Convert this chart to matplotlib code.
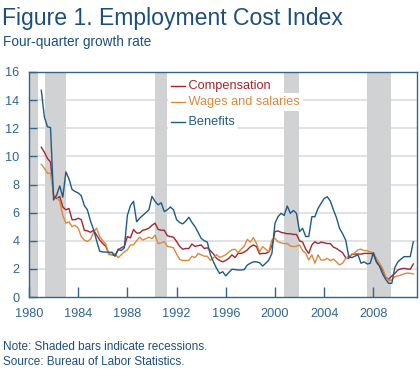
"""Figure 1. Employment Cost Index - four-quarter growth rates, 1981-2011."""
import matplotlib
matplotlib.use('Agg')
import matplotlib.pyplot as plt
import numpy as np

# Colors
TITLE_COLOR = '#1c4f7c'
AXIS_COLOR = '#2f6690'
COMP_COLOR = '#a3262e'
WAGE_COLOR = '#d98a3d'
BEN_COLOR = '#1f5a85'
SHADE_COLOR = '#d1d2d4'
GRID_COLOR = '#dddddd'

plt.rcParams['font.family'] = ['Liberation Sans', 'DejaVu Sans']

# Quarterly observations, 1981Q1 .. 2011Q2
start_year = 1981.0
compensation = [
    10.65, 10.3, 9.85, 9.6,    # 1981
    7.25, 7.0, 7.15, 6.4,      # 1982
    6.2, 6.3, 5.5, 5.5,        # 1983
    5.6, 5.5, 4.75, 4.7,       # 1984
    4.6, 4.75, 4.4, 4.05,      # 1985
    3.8, 3.6, 3.05, 3.0,       # 1986
    2.95, 3.35, 3.5, 3.6,      # 1987
    4.3, 4.2, 4.8, 4.55,       # 1988
    4.55, 4.75, 4.8, 4.9,      # 1989
    5.1, 5.25, 4.8, 4.75,      # 1990
    4.75, 4.35, 4.3, 4.25,     # 1991
    3.95, 3.6, 3.4, 3.45,      # 1992
    3.45, 3.77, 3.6, 3.65,     # 1993
    3.7, 3.45, 3.5, 3.3,       # 1994
    3.06, 2.75, 2.6, 2.5,      # 1995
    2.6, 2.75, 3.0, 2.8,       # 1996
    3.1, 3.1, 3.2, 3.35,       # 1997
    3.58, 3.7, 3.58, 3.06,     # 1998
    3.1, 3.1, 3.2, 3.65,       # 1999
    4.65, 4.7, 4.6, 4.55,      # 2000
    4.5, 4.5, 4.45, 4.45,      # 2001
    4.0, 3.9, 3.4, 3.1,        # 2002
    3.7, 3.93, 3.8, 3.9,       # 2003
    3.86, 3.8, 3.8, 3.55,      # 2004
    3.45, 3.3, 3.15, 2.8,      # 2005
    2.75, 3.05, 3.05, 3.05,    # 2006
    3.05, 3.1, 3.1, 3.1,       # 2007
    3.05, 2.5, 2.2, 1.92,      # 2008
    1.4, 1.26, 1.5, 1.68,      # 2009
    1.92, 2.0, 2.04, 2.0,      # 2010
    1.97, 2.35,                # 2011
]
wages = [
    9.44, 9.15, 8.8, 8.8,
    7.25, 7.1, 6.8, 5.8,
    5.25, 5.35, 5.0, 5.1,
    4.9, 4.3, 4.05, 3.95,
    4.1, 4.6, 4.9, 4.3,
    4.0, 3.75, 3.0, 3.05,
    3.05, 2.8, 3.0, 3.2,
    3.35, 3.7, 3.7, 4.0,
    4.25, 4.05, 4.15, 4.25,
    4.15, 4.4, 3.8, 3.85,
    3.95, 3.6, 3.55, 3.5,
    3.05, 2.68, 2.6, 2.6,
    2.6, 2.9, 2.8, 3.1,
    3.0, 2.9, 2.9, 2.6,
    2.8, 3.0, 2.82, 2.9,
    3.0, 3.2, 3.35, 3.4,
    3.15, 3.4, 3.6, 4.1,
    3.9, 4.22, 3.8, 3.22,
    3.58, 3.4, 3.22, 4.05,
    4.17, 3.93, 3.85, 3.8,
    3.8, 3.63, 3.58, 3.6,
    3.7, 3.3, 3.1, 2.63,
    3.0, 2.4, 3.0, 2.63,
    2.63, 2.75, 2.58, 2.7,
    2.5, 2.28, 2.4, 2.75,
    2.9, 3.0, 3.15, 3.35,
    3.4, 3.3, 3.3, 3.2,
    3.15, 2.75, 2.4, 2.04,
    1.45, 1.16, 1.21, 1.45,
    1.5, 1.56, 1.64, 1.7,
    1.68, 1.64,
]
benefits = [
    14.7, 12.8, 12.1, 12.05,
    6.9, 7.25, 7.9, 7.1,
    8.9, 8.4, 7.65, 7.5,
    7.4, 7.2, 6.5, 6.2,
    5.4, 4.8, 4.0, 3.25,
    3.2, 3.2, 3.18, 3.18,
    2.9, 3.4, 3.3, 3.5,
    5.8, 6.5, 6.8, 5.35,
    5.6, 5.8, 6.0, 6.2,
    7.15, 6.8, 6.55, 6.7,
    6.07, 6.2, 6.4, 6.2,
    5.5, 5.3, 5.2, 5.4,
    5.67, 5.3, 5.0, 4.6,
    4.17, 4.0, 3.9, 3.0,
    2.5, 2.04, 1.68, 1.8,
    1.5, 1.75, 1.97, 1.95,
    1.92, 1.92, 1.95, 2.27,
    2.4, 2.5, 2.5, 2.44,
    2.2, 2.4, 2.63, 3.1,
    5.24, 5.71, 5.95, 5.8,
    6.47, 5.95, 6.15, 5.95,
    4.65, 4.88, 4.3, 4.3,
    5.71, 5.71, 6.3, 6.66,
    7.0, 7.13, 6.83, 6.2,
    5.65, 4.88, 4.5, 4.05,
    2.87, 2.8, 2.9, 3.0,
    2.4, 2.5, 2.35, 2.4,
    3.15, 2.5, 2.2, 1.64,
    1.26, 0.97, 0.97, 2.1,
    2.5, 2.7, 2.87, 2.87,
    2.87, 3.93,
]

# Recession bars (start, end), fractional years
rec_start = [1980.0, 1981.3, 1990.25, 2000.73, 2007.5]
rec_end = [1980.73, 1983.0, 1991.2, 2001.95, 2009.43]

x_ticks = [1980, 1984, 1988, 1992, 1996, 2000, 2004, 2008]
y_ticks = [0, 2, 4, 6, 8, 10, 12, 14, 16]

series = [
    ("Compensation", compensation, COMP_COLOR),
    ("Wages and salaries", wages, WAGE_COLOR),
    ("Benefits", benefits, BEN_COLOR),
]

fig = plt.figure(figsize=(4.2, 3.7), dpi=100, facecolor='white')
ax = fig.add_axes([29 / 420, 1 - 297 / 370, 388 / 420, 225 / 370])

for y in y_ticks[1:-1]:
    ax.axhline(y, color=GRID_COLOR, linewidth=1.2, zorder=0)

for s, e in zip(rec_start, rec_end):
    ax.axvspan(s, e, color=SHADE_COLOR, linewidth=0, zorder=1)

t = start_year + 0.25 * np.arange(len(benefits))
for name, vals, col in series:
    ax.plot(t, vals, color=col, linewidth=1.0, zorder=3)

ax.set_xlim(1980, 2011.55)
ax.set_ylim(0, 16)
ax.set_xticks(x_ticks)
ax.set_yticks(y_ticks)
ax.tick_params(axis='both', direction='in', colors=AXIS_COLOR, labelcolor=AXIS_COLOR,
               labelsize=9.2, width=1.0)
ax.tick_params(axis='x', length=7, pad=8)
ax.tick_params(axis='y', length=6, pad=7)
for spine in ax.spines.values():
    spine.set_color(AXIS_COLOR)
    spine.set_linewidth(1.0)

# Legend: each row sits on its own white box
legend_y = [(297 - 85.7) / 225, (297 - 102.3) / 225, (297 - 122.3) / 225]
for (name, vals, col), ly in zip(series, legend_y):
    ax.text(0.366, ly, "     " + name, transform=ax.transAxes, color=col,
            fontsize=9.2, ha='left', va='center', zorder=4,
            bbox=dict(facecolor='white', edgecolor='none', pad=2.0))
    ax.plot([0.366, 0.402], [ly, ly], transform=ax.transAxes, color=col,
            linewidth=1.0, zorder=5)

fig.text(2 / 420, 1 - 18 / 370, "Figure 1. Employment Cost Index", color=TITLE_COLOR,
         fontsize=16.6, ha='left', va='center')
fig.text(3 / 420, 1 - 42 / 370, "Four-quarter growth rate", color=TITLE_COLOR,
         fontsize=9.8, ha='left', va='center')
fig.text(3 / 420, 1 - 346.7 / 370, "Note: Shaded bars indicate recessions.",
         color=TITLE_COLOR, fontsize=8.45, ha='left', va='center')
fig.text(3 / 420, 1 - 362.3 / 370, "Source: Bureau of Labor Statistics.",
         color=TITLE_COLOR, fontsize=8.45, ha='left', va='center')

fig.savefig('out.png', dpi=100, facecolor='white')
